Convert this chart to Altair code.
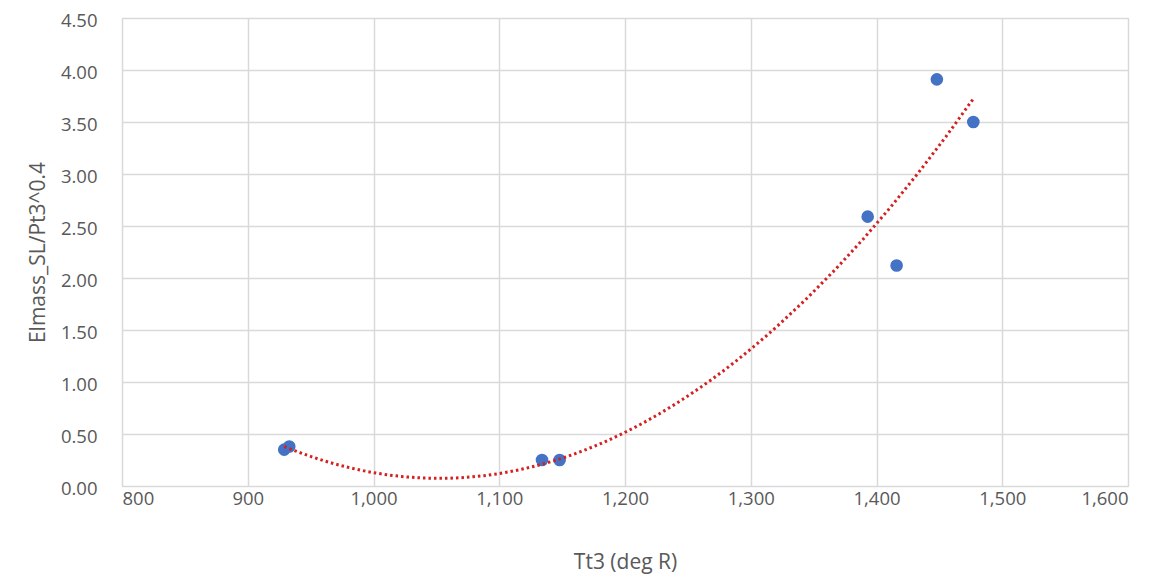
import altair as alt
import pandas as pd

tt3 = [929, 933, 1134, 1148, 1393, 1416, 1448, 1477]
elmass = [0.35, 0.38, 0.25, 0.25, 2.59, 2.12, 3.91, 3.50]
x_ticks = [800, 900, 1000, 1100, 1200, 1300, 1400, 1500, 1600]
y_ticks = [0, 0.5, 1.0, 1.5, 2.0, 2.5, 3.0, 3.5, 4.0, 4.5]

df = pd.DataFrame({"Tt3": tt3, "Elmass": elmass})

FONT = "Open Sans"
GRAY = "#595959"

x_enc = alt.X(
    "Tt3:Q",
    scale=alt.Scale(domain=[800, 1600], nice=False, zero=False),
    axis=alt.Axis(
        values=x_ticks, format=",d", title="Tt3 (deg R)",
        grid=True, gridColor="#d9d9d9", gridWidth=1.5,
        domain=False, ticks=False, labelPadding=3,
        labelFont=FONT, labelFontSize=18.5, labelColor=GRAY,
        titleFont=FONT, titleFontSize=21, titleColor=GRAY, titleFontWeight="normal",
        titleX=503, titleY=76, titleAnchor="middle", titleBaseline="middle", titleAlign="center",
    ),
)
y_enc = alt.Y(
    "Elmass:Q",
    scale=alt.Scale(domain=[0, 4.5], nice=False),
    axis=alt.Axis(
        values=y_ticks, format=".2f", title="Elmass_SL/Pt3^0.4",
        grid=True, gridColor="#d9d9d9", gridWidth=1.5,
        domain=False, ticks=False, labelPadding=25, labelOffset=2,
        labelFont=FONT, labelFontSize=18.5, labelColor=GRAY,
        titleFont=FONT, titleFontSize=21, titleColor=GRAY, titleFontWeight="normal",
        titleX=-84, titleY=234, titleBaseline="middle", titleAlign="center", titleAngle=-90,
    ),
)

points = alt.Chart(df).mark_circle(size=160, color="#4472C4", opacity=1).encode(x=x_enc, y=y_enc)

trend = (
    alt.Chart(df)
    .transform_regression("Tt3", "Elmass", method="poly", order=2)
    .mark_line(color="#d42020", strokeWidth=3, strokeDash=[2.5, 3], strokeCap="butt")
    .encode(x=alt.X("Tt3:Q"), y=alt.Y("Elmass:Q"))
)

chart = (
    alt.layer(points, trend)
    .properties(
        width=1006, height=468,
        autosize=alt.AutoSizeParams(type="none"),
        padding={"left": 114, "top": 10, "right": 30, "bottom": 88},
    )
    .configure_view(stroke=None)
    .configure(background="white")
)

chart.save("out.html", embed_options={"renderer": "svg", "actions": False})
